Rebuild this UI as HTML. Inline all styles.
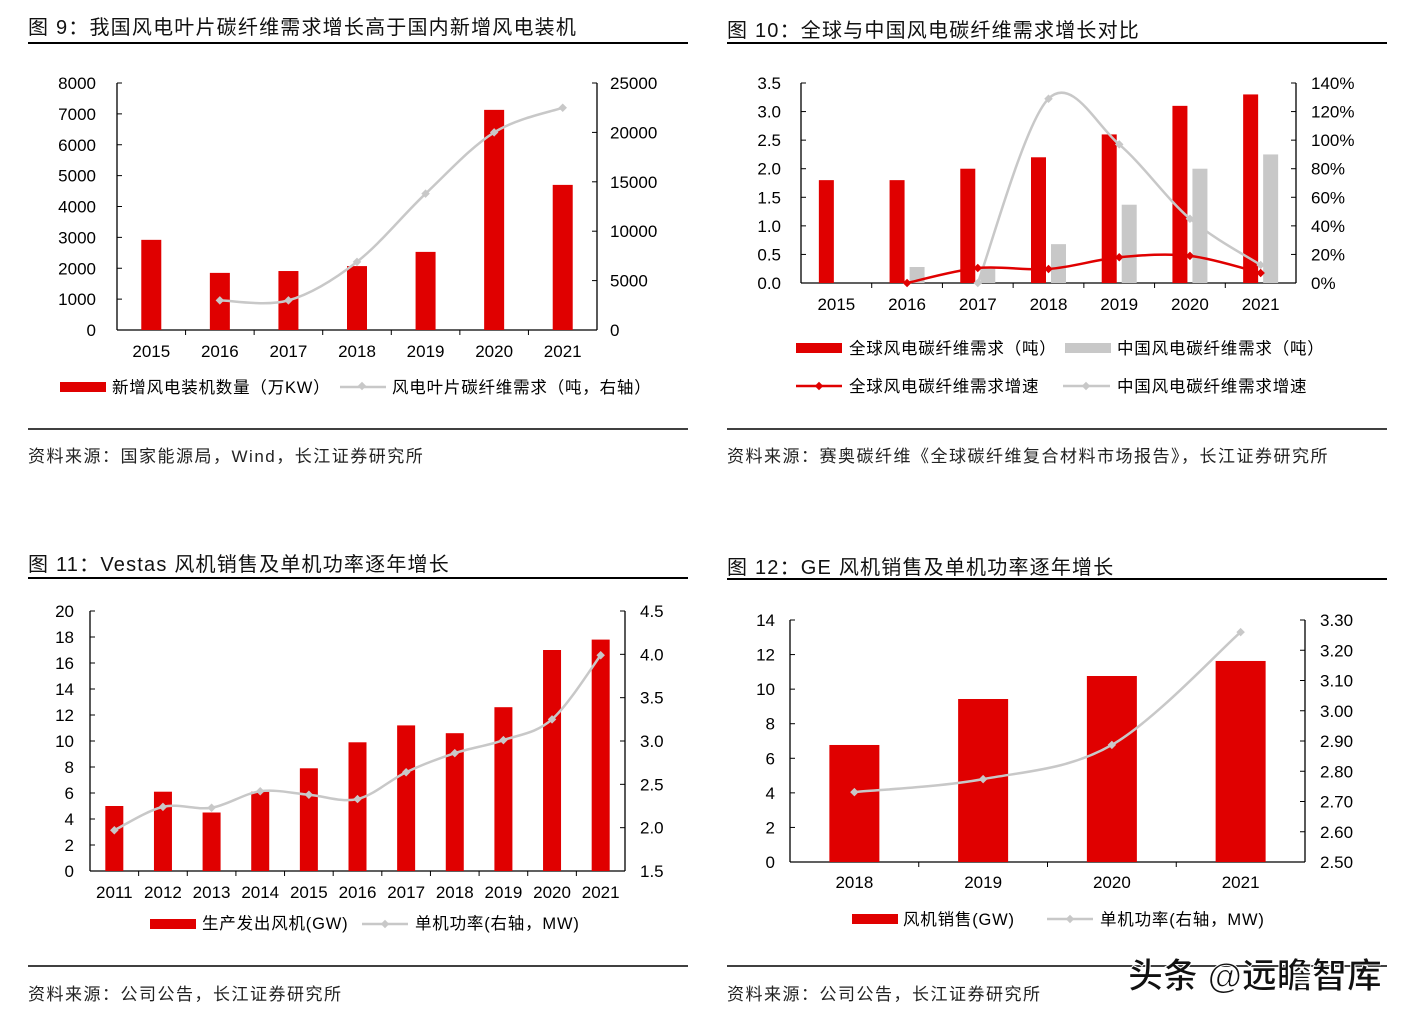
<!DOCTYPE html>
<html><head><meta charset="utf-8">
<style>
html,body{margin:0;padding:0;background:#fff;}
svg{display:block;font-family:"Liberation Sans","Noto Sans CJK SC",sans-serif;}
.t{font-size:20px;fill:#111;letter-spacing:1.2px;}
.tk{font-size:17px;fill:#000;}
.lg{font-size:16.5px;fill:#000;letter-spacing:0.8px;}
.src{font-size:17px;fill:#222;letter-spacing:1.5px;}
</style></head>
<body>
<svg id="root" width="1418" height="1022" viewBox="0 0 1418 1022">
<text class="t" x="28" y="34">图 9：我国风电叶片碳纤维需求增长高于国内新增风电装机</text>
<line x1="28" y1="43" x2="688" y2="43" stroke="#000" stroke-width="2"/>
<text class="t" x="727" y="37">图 10：全球与中国风电碳纤维需求增长对比</text>
<line x1="727" y1="43" x2="1387" y2="43" stroke="#000" stroke-width="2"/>
<line x1="28" y1="429" x2="688" y2="429" stroke="#000" stroke-width="1.5"/>
<line x1="727" y1="429" x2="1387" y2="429" stroke="#000" stroke-width="1.5"/>
<text class="src" x="28" y="462">资料来源：国家能源局，Wind，长江证券研究所</text>
<text class="src" x="727" y="462">资料来源：赛奥碳纤维《全球碳纤维复合材料市场报告》，长江证券研究所</text>

<text class="t" x="28" y="571">图 11：Vestas 风机销售及单机功率逐年增长</text>
<line x1="28" y1="578" x2="688" y2="578" stroke="#000" stroke-width="2"/>
<text class="t" x="727" y="574">图 12：GE 风机销售及单机功率逐年增长</text>
<line x1="727" y1="579" x2="1387" y2="579" stroke="#000" stroke-width="2"/>
<line x1="28" y1="966" x2="688" y2="966" stroke="#000" stroke-width="1.5"/>
<line x1="727" y1="966" x2="1387" y2="966" stroke="#000" stroke-width="1.5"/>
<text class="src" x="28" y="1000">资料来源：公司公告，长江证券研究所</text>
<text class="src" x="727" y="1000">资料来源：公司公告，长江证券研究所</text>

<g id="charts"></g>

<rect x="60" y="382" width="46" height="10" fill="#e00000"/>
<text class="lg" x="112" y="393">新增风电装机数量（万KW）</text>
<line x1="340" y1="387" x2="386" y2="387" stroke="#c8c8c8" stroke-width="2.5"/>
<rect x="359" y="383" width="6" height="6" fill="#c8c8c8" transform="rotate(45 362 386)"/>
<text class="lg" x="392" y="393">风电叶片碳纤维需求（吨，右轴）</text>

<rect x="796" y="343" width="46" height="10" fill="#e00000"/>
<text class="lg" x="849" y="354">全球风电碳纤维需求（吨）</text>
<rect x="1065" y="343" width="46" height="10" fill="#c8c8c8"/>
<text class="lg" x="1117" y="354">中国风电碳纤维需求（吨）</text>
<line x1="796" y1="386" x2="842" y2="386" stroke="#e00000" stroke-width="2.5"/>
<rect x="816" y="383" width="6" height="6" fill="#e00000" transform="rotate(45 819 386)"/>
<text class="lg" x="849" y="392">全球风电碳纤维需求增速</text>
<line x1="1063" y1="386" x2="1110" y2="386" stroke="#c8c8c8" stroke-width="2.5"/>
<rect x="1083" y="383" width="6" height="6" fill="#c8c8c8" transform="rotate(45 1086 386)"/>
<text class="lg" x="1117" y="392">中国风电碳纤维需求增速</text>

<rect x="150" y="919" width="46" height="10" fill="#e00000"/>
<text class="lg" x="202" y="929">生产发出风机(GW)</text>
<line x1="362" y1="924" x2="408" y2="924" stroke="#c8c8c8" stroke-width="2.5"/>
<rect x="382" y="921" width="6" height="6" fill="#c8c8c8" transform="rotate(45 385 924)"/>
<text class="lg" x="415" y="929">单机功率(右轴，MW)</text>

<rect x="852" y="914" width="46" height="10" fill="#e00000"/>
<text class="lg" x="903" y="925">风机销售(GW)</text>
<line x1="1047" y1="919" x2="1093" y2="919" stroke="#c8c8c8" stroke-width="2.5"/>
<rect x="1067" y="916" width="6" height="6" fill="#c8c8c8" transform="rotate(45 1070 919)"/>
<text class="lg" x="1100" y="925">单机功率(右轴，MW)</text>

<text x="1128" y="988" font-size="35" font-weight="bold" fill="#111" stroke="#fff" stroke-width="1">头条 @远瞻智库</text>
</svg>
<script>
const c1Years = ["2015","2016","2017","2018","2019","2020","2021"];
const c1Installs = [2920, 1850, 1910, 2070, 2530, 7130, 4700];
const c1BladeCF = [null, 3000, 3000, 6900, 13800, 20000, 22500];
const c1LeftTicks = [0,1000,2000,3000,4000,5000,6000,7000,8000];
const c1RightTicks = [0,5000,10000,15000,20000,25000];

const c2Years = ["2015","2016","2017","2018","2019","2020","2021"];
const c2Global = [1.8, 1.8, 2.0, 2.2, 2.6, 3.1, 3.3];
const c2China = [0, 0.28, 0.28, 0.68, 1.37, 2.0, 2.25];
const c2GlobalGrowth = [null, 0, 10.5, 9.8, 18, 19, 7];
const c2ChinaGrowth = [null, null, 0, 129, 97, 45, 12.6];
const c2LeftTicks = ["0.0","0.5","1.0","1.5","2.0","2.5","3.0","3.5"];
const c2RightTicks = [0,20,40,60,80,100,120,140];

const c3Years = ["2011","2012","2013","2014","2015","2016","2017","2018","2019","2020","2021"];
const c3GW = [5.0, 6.1, 4.5, 6.1, 7.9, 9.9, 11.2, 10.6, 12.6, 17.0, 17.8];
const c3MW = [1.97, 2.24, 2.23, 2.42, 2.38, 2.33, 2.64, 2.86, 3.01, 3.25, 3.99];
const c3LeftTicks = [0,2,4,6,8,10,12,14,16,18,20];
const c3RightTicks = ["1.5","2.0","2.5","3.0","3.5","4.0","4.5"];

const c4Years = ["2018","2019","2020","2021"];
const c4GW = [6.77, 9.43, 10.76, 11.63];
const c4MW = [2.731, 2.774, 2.887, 3.26];
const c4LeftTicks = [0,2,4,6,8,10,12,14];
const c4RightTicks = ["2.50","2.60","2.70","2.80","2.90","3.00","3.10","3.20","3.30"];

const NS = "http://www.w3.org/2000/svg";
const root = document.getElementById("charts");
function mk(tag, attrs, parent){
  const e = document.createElementNS(NS, tag);
  for (const k in attrs) e.setAttribute(k, attrs[k]);
  (parent||root).appendChild(e);
  return e;
}
function linScale(d0,d1,r0,r1){ return v => r0 + (v-d0)/(d1-d0)*(r1-r0); }
function smoothPath(pts){
  if (pts.length < 2) return "";
  let d = "M"+pts[0][0]+","+pts[0][1];
  for (let i=0;i<pts.length-1;i++){
    const p0 = pts[i-1]||pts[i], p1 = pts[i], p2 = pts[i+1], p3 = pts[i+2]||p2;
    const t = 1/6;
    const c1x = p1[0]+(p2[0]-p0[0])*t, c1y = p1[1]+(p2[1]-p0[1])*t;
    const c2x = p2[0]-(p3[0]-p1[0])*t, c2y = p2[1]-(p3[1]-p1[1])*t;
    d += " C"+c1x+","+c1y+" "+c2x+","+c2y+" "+p2[0]+","+p2[1];
  }
  return d;
}
function axes(cfg){
  const {x0,x1,y0,y1,n,leftTicks,leftMin,leftMax,rightTicks,rightMin,rightMax,leftLabX,rightLabX,xLabY,cats,id} = cfg;
  const g = mk("g",{});
  
  
  const ly = linScale(leftMin,leftMax,y0,y1);
  const ry = linScale(rightMin,rightMax,y0,y1);
  let e = mk("line",{x1:x0,y1:y0,x2:x0,y2:y1,stroke:"#000","stroke-width":1.3},g);
  
  
  e = mk("line",{x1:x1,y1:y0,x2:x1,y2:y1,stroke:"#000","stroke-width":1.3},g);
  
  
  e = mk("line",{x1:x0,y1:y0,x2:x1,y2:y0,stroke:"#000","stroke-width":1.3},g);
  
  
  leftTicks.forEach(t=>{
    const y = ly(parseFloat(t));
    mk("line",{x1:x0,y1:y,x2:x0+5,y2:y,stroke:"#000"},g);
    const tx = mk("text",{x:leftLabX,y:y+6,"text-anchor":"end",class:"tk"},g);
    tx.textContent = t;
    
    
  });
  rightTicks.forEach(t=>{
    const v = parseFloat(t);
    const y = ry(v);
    mk("line",{x1:x1-5,y1:y,x2:x1,y2:y,stroke:"#000"},g);
    const tx = mk("text",{x:rightLabX,y:y+6,class:"tk"},g);
    tx.textContent = cfg.pct ? t+"%" : t;
    
    
  });
  const step = (x1-x0)/n;
  for (let i=1;i<n;i++){ mk("line",{x1:x0+i*step,y1:y0,x2:x0+i*step,y2:y0+5,stroke:"#000"},g); }
  cats.forEach((c,i)=>{
    const tx = mk("text",{x:x0+step*(i+0.5),y:xLabY,"text-anchor":"middle",class:"tk"},g);
    tx.textContent = c;
    
    
  });
  return {ly, ry, cx: i => x0+step*(i+0.5)};
}
function bars(ax, vals, off, w, color, y0, name){
  vals.forEach((v,i)=>{
    if (v==null || v<=0) return;
    const y = ax.ly(v);
    const r = mk("rect",{x:ax.cx(i)+off-w/2,y:y,width:w,height:y0-y,fill:color});
    
    
  });
}
function line(ax, vals, color, name){
  const pts = [];
  vals.forEach((v,i)=>{ if (v!=null) pts.push([ax.cx(i), ax.ry(v)]); });
  const p = mk("path",{d:smoothPath(pts),fill:"none",stroke:color,"stroke-width":2.5});
  
  
  pts.forEach((q,i)=>{
    const m = mk("rect",{x:q[0]-3,y:q[1]-3,width:6,height:6,fill:color,transform:"rotate(45 "+q[0]+" "+q[1]+")"});
    
    
  });
}

const a1 = axes({id:"fig9",x0:117,x1:597,y0:330,y1:83,n:c1Years.length,leftTicks:c1LeftTicks,leftMin:0,leftMax:8000,rightTicks:c1RightTicks,rightMin:0,rightMax:25000,leftLabX:96,rightLabX:610,xLabY:357,cats:c1Years});
bars(a1, c1Installs, 0, 20, "#e00000", 330, "fig9-bar");
line(a1, c1BladeCF, "#c8c8c8", "fig9-blade-cf");

const a2 = axes({id:"fig10",x0:801,x1:1296,y0:283,y1:83,n:c2Years.length,leftTicks:c2LeftTicks,leftMin:0,leftMax:3.5,rightTicks:c2RightTicks,rightMin:0,rightMax:140,pct:true,leftLabX:781,rightLabX:1311,xLabY:310,cats:c2Years});
bars(a2, c2Global, -10, 15, "#e00000", 283, "fig10-global-bar");
bars(a2, c2China, 10, 15, "#c8c8c8", 283, "fig10-china-bar");
line(a2, c2ChinaGrowth, "#c8c8c8", "fig10-china-growth");
line(a2, c2GlobalGrowth, "#e00000", "fig10-global-growth");

const a3 = axes({id:"fig11",x0:90,x1:625,y0:871,y1:611,n:c3Years.length,leftTicks:c3LeftTicks,leftMin:0,leftMax:20,rightTicks:c3RightTicks,rightMin:1.5,rightMax:4.5,leftLabX:74,rightLabX:640,xLabY:898,cats:c3Years});
bars(a3, c3GW, 0, 18, "#e00000", 871, "fig11-bar");
line(a3, c3MW, "#c8c8c8", "fig11-mw");

const a4 = axes({id:"fig12",x0:790,x1:1305,y0:862,y1:620,n:c4Years.length,leftTicks:c4LeftTicks,leftMin:0,leftMax:14,rightTicks:c4RightTicks,rightMin:2.5,rightMax:3.3,leftLabX:775,rightLabX:1320,xLabY:888,cats:c4Years});
bars(a4, c4GW, 0, 50, "#e00000", 862, "fig12-bar");
line(a4, c4MW, "#c8c8c8", "fig12-mw");
</script>
</body></html>
